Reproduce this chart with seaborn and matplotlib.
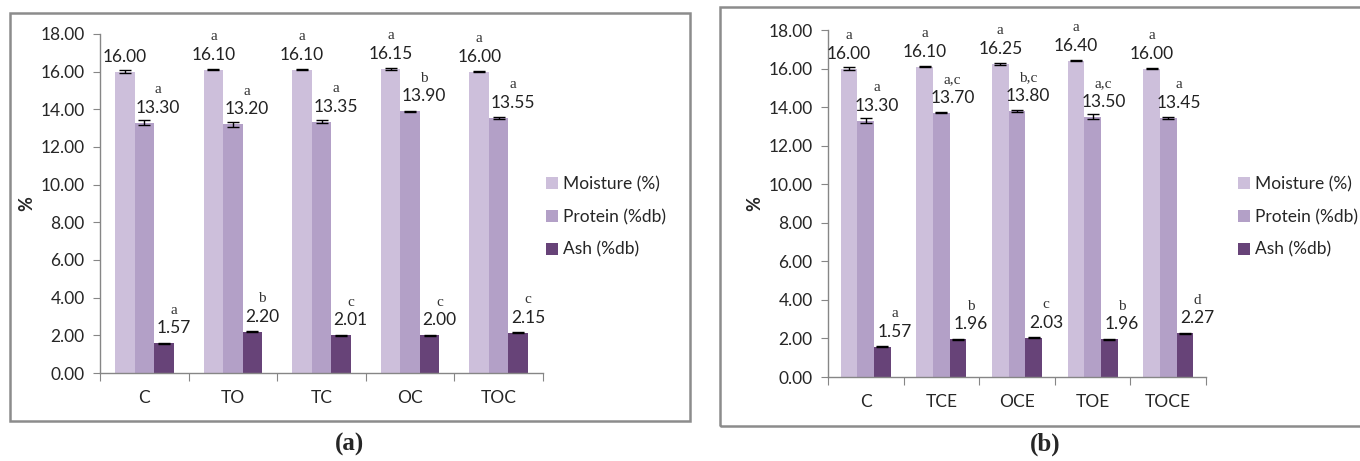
import numpy as np
import pandas as pd
import matplotlib
matplotlib.use('Agg')
import matplotlib.pyplot as plt
import seaborn as sns
from matplotlib.patches import Rectangle, Patch

# panel (a)
cats_a = ['C', 'TO', 'TC', 'OC', 'TOC']
moist_a = [16.00, 16.10, 16.10, 16.15, 16.00]
prot_a = [13.30, 13.20, 13.35, 13.90, 13.55]
ash_a = [1.57, 2.20, 2.01, 2.00, 2.15]
moist_a_err = [0.08, 0.02, 0.02, 0.06, 0.02]
prot_a_err = [0.12, 0.12, 0.07, 0.02, 0.06]
ash_a_err = [0.03, 0.03, 0.03, 0.02, 0.03]
moist_a_let = ['', 'a', 'a', 'a', 'a']
prot_a_let = ['a', 'a', 'a', 'b', 'a']
ash_a_let = ['a', 'b', 'c', 'c', 'c']

# panel (b)
cats_b = ['C', 'TCE', 'OCE', 'TOE', 'TOCE']
moist_b = [16.00, 16.10, 16.25, 16.40, 16.00]
prot_b = [13.30, 13.70, 13.80, 13.50, 13.45]
ash_b = [1.57, 1.96, 2.03, 1.96, 2.27]
moist_b_err = [0.08, 0.02, 0.06, 0.02, 0.02]
prot_b_err = [0.12, 0.03, 0.03, 0.12, 0.06]
ash_b_err = [0.03, 0.02, 0.03, 0.03, 0.03]
moist_b_let = ['a', 'a', 'a', 'a', 'a']
prot_b_let = ['a', 'a,c', 'b,c', 'a,c', 'a']
ash_b_let = ['a', 'b', 'c', 'b', 'd']

series = ['Moisture (%)', 'Protein (%db)', 'Ash (%db)']
colors = ['#cdbfdb', '#b3a0c7', '#674378']

sns.set_style('white')
plt.rcParams['font.family'] = ['Lato', 'DejaVu Sans']

fig = plt.figure(figsize=(13.6, 4.61), dpi=100)
W, H = 1360, 461


def draw(rect, cats, vals, errs, lets, dx):
    ax = fig.add_axes(rect)
    df = pd.DataFrame({
        'cat': np.tile(cats, 3),
        'series': np.repeat(series, len(cats)),
        'val': np.concatenate(vals),
    })
    sns.barplot(data=df, x='cat', y='val', hue='series', order=cats,
                hue_order=series, palette=colors, width=0.66, gap=0,
                errorbar=None, legend=False, ax=ax, saturation=1,
                linewidth=0)
    bars = list(ax.containers)
    for k, cont in enumerate(bars):
        xs = [p.get_x() + p.get_width() / 2 for p in cont.patches]
        hs = [p.get_height() for p in cont.patches]
        ax.errorbar(xs, hs, yerr=errs[k], fmt='none', ecolor='black',
                    elinewidth=1, capsize=4, capthick=1)
        for x, h, let in zip(xs, hs, lets[k]):
            ax.annotate(f'{h:.2f}', (x, h), xytext=(dx[k], 5),
                        textcoords='offset points', ha='center', va='bottom',
                        fontsize=12.5, color='#222222')
            ax.annotate(let, (x, h), xytext=(dx[k], 19),
                        textcoords='offset points', ha='center', va='bottom',
                        fontsize=11, color='#333333', family='Liberation Serif')
    ax.set_ylim(0, 18)
    ax.set_xlim(-0.5, len(cats) - 0.5)
    ax.set_yticks(np.arange(0, 18.1, 2))
    ax.set_yticklabels([f'{v:.2f}' for v in np.arange(0, 18.1, 2)], fontsize=12.5)
    ax.set_xticks(np.arange(-0.5, len(cats), 1))
    ax.set_xticklabels([])
    ax.set_xticks(np.arange(len(cats)), minor=True)
    ax.set_xticklabels(cats, minor=True, fontsize=12.5)
    ax.tick_params(axis='x', which='minor', length=0, pad=12)
    ax.tick_params(axis='x', which='major', length=6, color='#868686',
                   direction='out', bottom=True)
    ax.tick_params(axis='y', length=5, color='#868686', direction='out',
                   left=True, pad=6)
    for s in ['top', 'right']:
        ax.spines[s].set_visible(False)
    for s in ['left', 'bottom']:
        ax.spines[s].set_color('#868686')
        ax.spines[s].set_linewidth(1)
    ax.set_xlabel('')
    ax.set_ylabel('%', fontsize=13, fontweight='bold', labelpad=4)
    return ax


ax_a = draw([100 / W, 1 - 373 / H, 443 / W, 339 / H], cats_a,
            [moist_a, prot_a, ash_a],
            [moist_a_err, prot_a_err, ash_a_err],
            [moist_a_let, prot_a_let, ash_a_let], [0, 10, 7])
ax_b = draw([828 / W, 1 - 377 / H, 378 / W, 347 / H], cats_b,
            [moist_b, prot_b, ash_b],
            [moist_b_err, prot_b_err, ash_b_err],
            [moist_b_let, prot_b_let, ash_b_let], [0, 8, 9])

handles = [Patch(facecolor=c, edgecolor='none') for c in colors]
for x0 in [546 / W, 1238 / W]:
    fig.legend(handles, series, loc='center left',
               bbox_to_anchor=(x0, 1 - 217 / H), frameon=False, fontsize=12.5,
               handlelength=0.7, handleheight=0.7, handletextpad=0.3,
               labelspacing=0.95, borderpad=0, borderaxespad=0)

# panel frames
fig.patches.append(Rectangle((10 / W, 1 - 421 / H), 680 / W, 408 / H,
                             transform=fig.transFigure, fill=False,
                             edgecolor='#8c8c8c', linewidth=1.8))
fig.patches.append(Rectangle((720 / W, 1 - 426 / H), 660 / W, 419 / H,
                             transform=fig.transFigure, fill=False,
                             edgecolor='#8c8c8c', linewidth=1.8))

fig.text(350 / W, 1 - 444 / H, '(a)', ha='center', va='center', fontsize=18,
         fontweight='bold', family='Liberation Serif')
fig.text(1045 / W, 1 - 444 / H, '(b)', ha='center', va='center', fontsize=18,
         fontweight='bold', family='Liberation Serif')

fig.savefig('out.png', dpi=100)
